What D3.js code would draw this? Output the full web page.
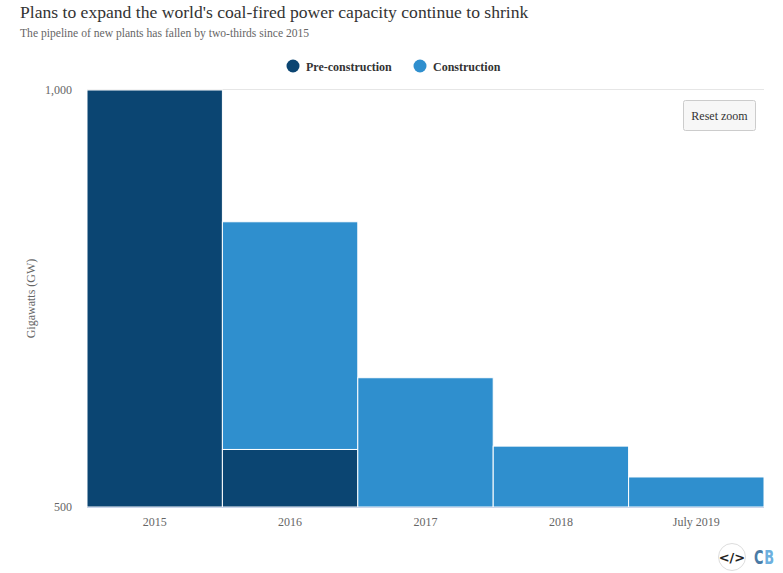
<!DOCTYPE html>
<html>
<head>
<meta charset="utf-8">
<script src="https://d3js.org/d3.v7.min.js"></script>
<style>
  html, body { margin: 0; padding: 0; background: #fff; }
  svg { display: block; font-family: "Liberation Serif", serif; }
</style>
</head>
<body>
<svg id="chart" width="783" height="573"></svg>
<script>
const categories = ["2015", "2016", "2017", "2018", "July 2019"];
const seriesNames = ["Pre-construction", "Construction"];
// the split below 500 GW is off the axis, so those pre-construction values are a floor
const preConstruction = [1000, 569, 500, 500, 500];
const construction = [0, 273, 155, 73, 36];
const yTicks = [500, 1000];
const colors = ["#0b4572", "#2f8fce"];

const svg = d3.select("#chart");
const plotLeft = 87, plotRight = 764, plotTop = 90, plotBottom = 507;

const x = d3.scaleBand().domain(categories).range([plotLeft, plotRight]);
const y = d3.scaleLinear().domain([500, 1000]).range([plotBottom, plotTop]);

// Title
svg.append("text").attr("x", 20).attr("y", 18)
  .attr("font-size", 17.6).attr("fill", "#333")
  .text("Plans to expand the world's coal-fired power capacity continue to shrink");
svg.append("text").attr("x", 20).attr("y", 37)
  .attr("font-size", 11.6).attr("fill", "#666")
  .text("The pipeline of new plants has fallen by two-thirds since 2015");

// Legend
const legendX = [293, 420];
seriesNames.forEach((name, i) => {
  svg.append("circle").attr("cx", legendX[i]).attr("cy", 66).attr("r", 6.5).attr("fill", colors[i]);
  svg.append("text").attr("x", legendX[i] + 13).attr("y", 71)
    .attr("font-size", 12).attr("font-weight", "bold").attr("fill", "#333").text(name);
});

// Grid line at the top
svg.append("g").selectAll("line")
  .data(yTicks.slice(1))
  .join("line")
  .attr("x1", plotLeft).attr("x2", plotRight)
  .attr("y1", (d) => y(d) - 0.5).attr("y2", (d) => y(d) - 0.5)
  .attr("stroke", "#e6e6e6");

// Stacked bars
const rows = categories.map((c, i) => ({
  category: c,
  "Pre-construction": preConstruction[i],
  Construction: construction[i],
}));
const stacked = d3.stack().keys(seriesNames)(rows);

svg.append("g").selectAll("g")
  .data(stacked)
  .join("g")
  .attr("fill", (d, i) => colors[i])
  .selectAll("rect")
  .data((d) => d.filter((p) => p[1] > p[0]))
  .join("rect")
  .attr("x", (d) => x(d.data.category))
  .attr("width", x.bandwidth())
  .attr("y", (d) => y(Math.min(d[1], 1000)))
  .attr("height", (d) => y(Math.max(d[0], 500)) - y(Math.min(d[1], 1000)))
  .attr("stroke", "#fff")
  .attr("stroke-width", 1);

// X baseline and axes
svg.append("line")
  .attr("x1", plotLeft).attr("x2", plotRight)
  .attr("y1", plotBottom + 0.5).attr("y2", plotBottom + 0.5)
  .attr("stroke", "#ccd6eb");

const xAxis = svg.append("g")
  .attr("transform", `translate(0,${plotBottom})`)
  .call(d3.axisBottom(x).tickSize(0).tickPadding(10));
xAxis.select(".domain").remove();
xAxis.selectAll("text").attr("font-family", "Liberation Serif").attr("font-size", 12).attr("fill", "#666");

const yAxis = svg.append("g")
  .attr("transform", `translate(${plotLeft - 15},0)`)
  .call(d3.axisLeft(y).tickValues(yTicks).tickSize(0).tickPadding(0).tickFormat(d3.format(",")));
yAxis.select(".domain").remove();
yAxis.selectAll("text").attr("font-family", "Liberation Serif").attr("font-size", 12).attr("fill", "#666");

svg.append("text")
  .attr("transform", `translate(35,${(plotTop + plotBottom) / 2}) rotate(-90)`)
  .attr("text-anchor", "middle")
  .attr("font-size", 12).attr("fill", "#666")
  .text("Gigawatts (GW)");

// Reset zoom button
const btn = svg.append("g").attr("transform", "translate(683.5,100.5)");
btn.append("rect").attr("width", 72).attr("height", 30).attr("rx", 2)
  .attr("fill", "#f7f7f7").attr("stroke", "#ccc");
btn.append("text").attr("x", 36).attr("y", 19.5).attr("text-anchor", "middle")
  .attr("font-size", 12).attr("fill", "#333").text("Reset zoom");

// Logo
const logo = svg.append("g");
logo.append("circle").attr("cx", 732).attr("cy", 557).attr("r", 13.5)
  .attr("fill", "#fff").attr("stroke", "#ddd");
logo.append("text").attr("x", 732).attr("y", 562).attr("text-anchor", "middle")
  .attr("font-family", "DejaVu Sans").attr("font-weight", "bold").attr("font-size", 13)
  .attr("fill", "#222").text("</>");
[["C", 754, "#4a7ba6"], ["B", 764.2, "#6db0de"]].forEach(([letter, lx, fill]) => {
  logo.append("text").attr("transform", `translate(${lx},564) scale(0.68,1)`)
    .attr("font-family", "DejaVu Sans").attr("font-weight", "bold").attr("font-size", 19)
    .attr("fill", fill).text(letter);
});
</script>
</body>
</html>
